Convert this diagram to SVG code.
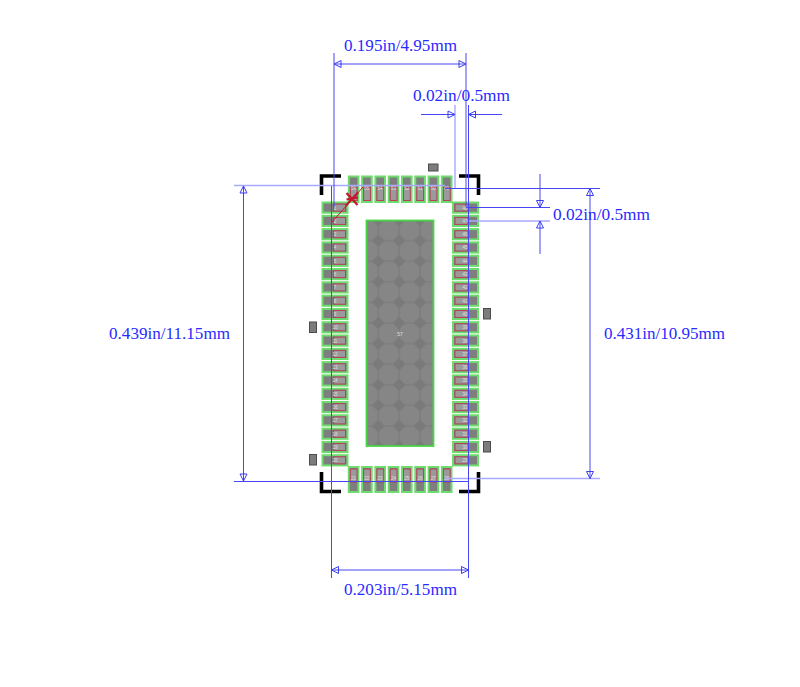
<svg xmlns="http://www.w3.org/2000/svg" width="800" height="687" viewBox="0 0 800 687">
<style>
.t{font-family:"Liberation Serif",serif;font-size:16.500px;fill:#2a2aff}
.d{stroke:#4646f4;stroke-width:1;fill:none}
.l{stroke:#a8a8ff;stroke-width:1.4;fill:none}
.c{stroke:#000;stroke-width:3.6;fill:none}
.s{fill:#7c7c7c;stroke:#4c4c4c;stroke-width:1}
.g{fill:#7e7e7e;stroke:#6cdc6c;stroke-width:2}
.r{fill:#9a9a9a;stroke:#b8405a;stroke-width:1}
.n{font-family:"Liberation Sans",sans-serif;font-size:4.500px;fill:#e0e0e0;text-anchor:middle}
.a{fill:none;stroke:#3c3cf0;stroke-width:1}
</style>
<defs>
<pattern id="oct" patternUnits="userSpaceOnUse" x="357.500" y="220" width="20.800" height="20.600">
<polygon points="6,0.600 14.800,0.600 20.200,6 20.200,14.600 14.800,20 6,20 0.600,14.600 0.600,6" fill="#868686"/>
</pattern>
<g id="pl"><rect class="g" x="0.500" y="-5" width="25" height="10.200"/><rect class="r" x="11.500" y="-3.400" width="12" height="7"/></g>
<g id="pr"><rect class="g" x="0" y="-5" width="25" height="10.200"/><rect class="r" x="2" y="-3.400" width="13" height="7"/></g>
<g id="pt"><rect class="g" x="0" y="0" width="9.600" height="25.500"/><rect class="r" x="1.500" y="11" width="6.800" height="13"/></g>
<g id="pb"><rect class="g" x="0" y="0" width="9.600" height="25"/><rect class="r" x="1.500" y="2" width="6.800" height="13"/></g>
<polygon id="au" points="0,0 -3.500,7 3.500,7" class="a"/>
<polygon id="ad" points="0,0 -3.500,-7 3.500,-7" class="a"/>
<polygon id="al" points="0,0 7,-3.500 7,3.500" class="a"/>
<polygon id="ar" points="0,0 -7,-3.500 -7,3.500" class="a"/>
</defs>
<rect width="800" height="687" fill="#fff"/>
<g id="components">
<rect class="s" x="428.500" y="164" width="9.500" height="7"/>
<rect class="s" x="309.500" y="322" width="7" height="10.500"/>
<rect class="s" x="309.500" y="454.500" width="7" height="10.500"/>
<rect class="s" x="483.500" y="308.500" width="7" height="10.500"/>
<rect class="s" x="483.500" y="441.500" width="7" height="10.500"/>
</g>
<g id="center-pad">
<rect x="366.500" y="220.500" width="67" height="225.500" fill="#7a7a7a"/>
<rect x="366.500" y="220.500" width="67" height="225.500" fill="url(#oct)" stroke="#44d644" stroke-width="1.800"/>
<text x="400" y="335.500" class="n" style="font-size:5px">57</text>
</g>
<g id="pads-left">
<use href="#pl" x="322" y="207.500"/><use href="#pl" x="322" y="220.800"/><use href="#pl" x="322" y="234.100"/><use href="#pl" x="322" y="247.400"/><use href="#pl" x="322" y="260.700"/><use href="#pl" x="322" y="274"/><use href="#pl" x="322" y="287.300"/><use href="#pl" x="322" y="300.600"/><use href="#pl" x="322" y="313.900"/><use href="#pl" x="322" y="327.200"/><use href="#pl" x="322" y="340.500"/><use href="#pl" x="322" y="353.800"/><use href="#pl" x="322" y="367.100"/><use href="#pl" x="322" y="380.400"/><use href="#pl" x="322" y="393.700"/><use href="#pl" x="322" y="407"/><use href="#pl" x="322" y="420.300"/><use href="#pl" x="322" y="433.600"/><use href="#pl" x="322" y="446.900"/><use href="#pl" x="322" y="460.200"/>
<text class="n" x="335" y="209.500">1</text><text class="n" x="335" y="222.800">2</text><text class="n" x="335" y="236.100">3</text><text class="n" x="335" y="249.400">4</text><text class="n" x="335" y="262.700">5</text><text class="n" x="335" y="276">6</text><text class="n" x="335" y="289.300">7</text><text class="n" x="335" y="302.600">8</text><text class="n" x="335" y="315.900">9</text><text class="n" x="335" y="329.200">10</text><text class="n" x="335" y="342.500">11</text><text class="n" x="335" y="355.800">12</text><text class="n" x="335" y="369.100">13</text><text class="n" x="335" y="382.400">14</text><text class="n" x="335" y="395.700">15</text><text class="n" x="335" y="409">16</text><text class="n" x="335" y="422.300">17</text><text class="n" x="335" y="435.600">18</text><text class="n" x="335" y="448.900">19</text><text class="n" x="335" y="462.200">20</text>
</g>
<g id="pads-right">
<use href="#pr" x="453" y="207.500"/><use href="#pr" x="453" y="220.800"/><use href="#pr" x="453" y="234.100"/><use href="#pr" x="453" y="247.400"/><use href="#pr" x="453" y="260.700"/><use href="#pr" x="453" y="274"/><use href="#pr" x="453" y="287.300"/><use href="#pr" x="453" y="300.600"/><use href="#pr" x="453" y="313.900"/><use href="#pr" x="453" y="327.200"/><use href="#pr" x="453" y="340.500"/><use href="#pr" x="453" y="353.800"/><use href="#pr" x="453" y="367.100"/><use href="#pr" x="453" y="380.400"/><use href="#pr" x="453" y="393.700"/><use href="#pr" x="453" y="407"/><use href="#pr" x="453" y="420.300"/><use href="#pr" x="453" y="433.600"/><use href="#pr" x="453" y="446.900"/><use href="#pr" x="453" y="460.200"/>
<text class="n" x="465" y="209.500">48</text><text class="n" x="465" y="222.800">47</text><text class="n" x="465" y="236.100">46</text><text class="n" x="465" y="249.400">45</text><text class="n" x="465" y="262.700">44</text><text class="n" x="465" y="276">43</text><text class="n" x="465" y="289.300">42</text><text class="n" x="465" y="302.600">41</text><text class="n" x="465" y="315.900">40</text><text class="n" x="465" y="329.200">39</text><text class="n" x="465" y="342.500">38</text><text class="n" x="465" y="355.800">37</text><text class="n" x="465" y="369.100">36</text><text class="n" x="465" y="382.400">35</text><text class="n" x="465" y="395.700">34</text><text class="n" x="465" y="409">33</text><text class="n" x="465" y="422.300">32</text><text class="n" x="465" y="435.600">31</text><text class="n" x="465" y="448.900">30</text><text class="n" x="465" y="462.200">29</text>
</g>
<g id="pads-top">
<use href="#pt" x="348.800" y="176.500"/><use href="#pt" x="362.100" y="176.500"/><use href="#pt" x="375.400" y="176.500"/><use href="#pt" x="388.700" y="176.500"/><use href="#pt" x="402" y="176.500"/><use href="#pt" x="415.300" y="176.500"/><use href="#pt" x="428.600" y="176.500"/><use href="#pt" x="441.900" y="176.500"/>
<text class="n" x="353.500" y="190">56</text><text class="n" x="366.800" y="190">55</text><text class="n" x="380.100" y="190">54</text><text class="n" x="393.400" y="190">53</text><text class="n" x="406.700" y="190">52</text><text class="n" x="420" y="190">51</text><text class="n" x="433.300" y="190">50</text><text class="n" x="446.600" y="190">49</text>
</g>
<g id="pads-bottom">
<use href="#pb" x="348.800" y="467"/><use href="#pb" x="362.100" y="467"/><use href="#pb" x="375.400" y="467"/><use href="#pb" x="388.700" y="467"/><use href="#pb" x="402" y="467"/><use href="#pb" x="415.300" y="467"/><use href="#pb" x="428.600" y="467"/><use href="#pb" x="441.900" y="467"/>
<text class="n" x="353.500" y="480">21</text><text class="n" x="366.800" y="480">22</text><text class="n" x="380.100" y="480">23</text><text class="n" x="393.400" y="480">24</text><text class="n" x="406.700" y="480">25</text><text class="n" x="420" y="480">26</text><text class="n" x="433.300" y="480">27</text><text class="n" x="446.600" y="480">28</text>
</g>
<g id="outline">
<path class="c" d="M321.500 195V176H341"/>
<path class="c" d="M459 176H478.500V195"/>
<path class="c" d="M321.500 472V491.500H341"/>
<path class="c" d="M459 491.500H478.500V472"/>
</g>
<g id="pin1" stroke="#c8142d" fill="none">
<path d="M363 187L332 222" stroke-width="1"/>
<path d="M346.500 193L357.500 205M358 192.500L346 205.500M346.500 199.500L358 197.500" stroke-width="2.200"/>
</g>
<g id="connectors">
<path class="l" d="M455 105V188M466 221H550M445 478.500H600M234 185.500H445"/>
<path class="d" d="M334 53V207M466 53V207M331.500 186V578M468.500 105V578"/>
<path class="d" d="M334 64H466M421 114.500H455M468.500 114.500H502M331.500 570H468.500"/>
<path class="d" d="M445 188.500H600M466 207.500H550M234 481.500H468.500"/>
<path class="d" d="M243.500 186V481M590 188.500V478.500M540 174V207.500M540 221V254"/>
<use href="#al" x="334" y="64"/><use href="#ar" x="466" y="64"/>
<use href="#ar" x="455" y="114.500"/><use href="#al" x="468.500" y="114.500"/>
<use href="#al" x="331.500" y="570"/><use href="#ar" x="468.500" y="570"/>
<use href="#au" x="243.500" y="186"/><use href="#ad" x="243.500" y="481"/>
<use href="#au" x="590" y="188.500"/><use href="#ad" x="590" y="478.500"/>
<use href="#ad" x="540" y="207.500"/><use href="#au" x="540" y="221"/>
</g>
<g id="labels">
<text class="t" x="344" y="51" textLength="113" lengthAdjust="spacingAndGlyphs">0.195in/4.95mm</text>
<text class="t" x="413" y="101" textLength="97" lengthAdjust="spacingAndGlyphs">0.02in/0.5mm</text>
<text class="t" x="553" y="220" textLength="97" lengthAdjust="spacingAndGlyphs">0.02in/0.5mm</text>
<text class="t" x="109" y="339" textLength="121" lengthAdjust="spacingAndGlyphs">0.439in/11.15mm</text>
<text class="t" x="604" y="339" textLength="121" lengthAdjust="spacingAndGlyphs">0.431in/10.95mm</text>
<text class="t" x="344" y="595" textLength="113" lengthAdjust="spacingAndGlyphs">0.203in/5.15mm</text>
</g>
</svg>
